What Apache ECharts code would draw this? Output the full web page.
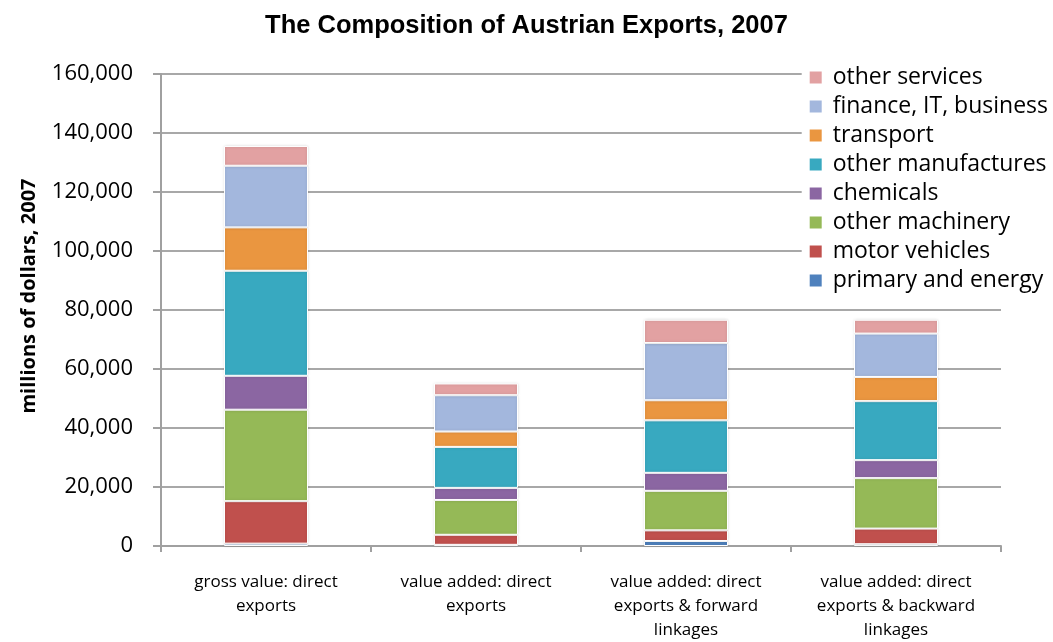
<!DOCTYPE html>
<html><head><meta charset="utf-8">
<script src="https://cdn.jsdelivr.net/npm/echarts@6/dist/echarts.min.js"></script>
<style>html,body{margin:0;padding:0;background:#fff}#c{width:1053px;height:642px}</style>
</head><body><div id="c"></div>
<script>
const categories = ['gross value: direct\nexports', 'value added: direct\nexports', 'value added: direct\nexports & forward\nlinkages', 'value added: direct\nexports & backward\nlinkages'];
const seriesNames = ['primary and energy', 'motor vehicles', 'other machinery', 'chemicals', 'other manufactures', 'transport', 'finance, IT, business', 'other services'];
const primaryEnergy = [800, 400, 1700, 600];
const motorVehicles = [14400, 3400, 3600, 5300];
const otherMachinery = [31000, 11800, 13400, 17100];
const chemicals = [11500, 4100, 6100, 6100];
const otherManufactures = [35600, 13900, 17800, 20000];
const transport = [14700, 5200, 6800, 8200];
const financeITBusiness = [20900, 12300, 19400, 14700];
const otherServices = [6700, 4000, 7900, 4700];
const yTicks = [0, 20000, 40000, 60000, 80000, 100000, 120000, 140000, 160000];
const colors = ['#4F81BD', '#C0504D', '#95B957', '#8B66A2', '#38A9C0', '#EA9640', '#A3B7DD', '#E2A1A2'];
const values = [primaryEnergy, motorVehicles, otherMachinery, chemicals, otherManufactures, transport, financeITBusiness, otherServices];

const chart = echarts.init(document.getElementById('c'));
chart.setOption({
  animation: false,
  title: {
    text: 'The Composition of Austrian Exports, 2007',
    left: 'center', top: 8,
    textStyle: { fontFamily: 'Liberation Sans, Arial', fontWeight: 'bold', fontSize: 25.5, color: '#000' }
  },
  legend: {
    orient: 'vertical', right: 2, top: 64,
    data: seriesNames.slice().reverse(),
    itemWidth: 14, itemHeight: 14, itemGap: 6,
    icon: 'rect',
    backgroundColor: '#fff',
    padding: [2, 3, 2, 6],
    textStyle: { fontFamily: 'Open Sans, Noto Sans', fontSize: 23, color: '#000', padding: [0, 0, 0, 5] }
  },
  grid: { left: 161, right: 52, top: 74, bottom: 95 },
  xAxis: {
    type: 'category', data: categories,
    axisLine: { lineStyle: { color: '#a0a0a0', width: 2 } },
    axisTick: { show: true, alignWithLabel: false, length: 6, lineStyle: { color: '#a0a0a0', width: 2 } },
    axisLabel: { fontFamily: 'Liberation Sans Narrow, Open Sans', fontSize: 17, color: '#000', lineHeight: 24, margin: 24 }
  },
  yAxis: {
    type: 'value', min: 0, max: 160000, interval: 20000,
    name: 'millions of dollars, 2007', nameLocation: 'middle', nameGap: 122, nameRotate: 90,
    nameTextStyle: { fontFamily: 'Open Sans, Noto Sans', fontWeight: 'bold', fontSize: 20, color: '#000', padding: [0, 0, 0, 28] },
    axisLine: { show: true, lineStyle: { color: '#a0a0a0', width: 2 } },
    axisTick: { show: true, length: 8, lineStyle: { color: '#a0a0a0', width: 2 } },
    splitLine: { lineStyle: { color: '#a8a8a8', width: 2 } },
    axisLabel: {
      fontFamily: 'Open Sans, Noto Sans', fontSize: 22, color: '#000', margin: 28,
      formatter: v => yTicks.includes(v) ? v.toLocaleString('en-US') : ''
    }
  },
  series: seriesNames.map((n, i) => ({
    name: n, type: 'bar', stack: 'total', data: values[i], barWidth: '40%',
    itemStyle: { color: colors[i], borderColor: '#fff', borderWidth: 1, shadowColor: 'rgba(0,0,0,0.15)', shadowBlur: 3 }
  })),
  color: colors
});
</script></body></html>
